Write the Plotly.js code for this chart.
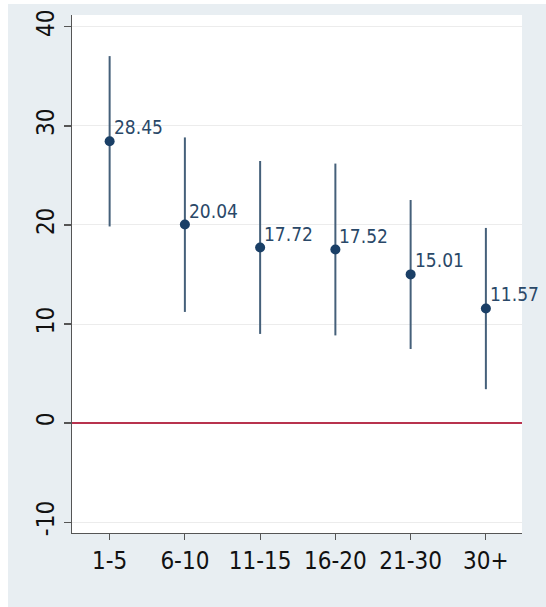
<!DOCTYPE html>
<html>
<head>
<meta charset="utf-8">
<script src="https://cdn.plot.ly/plotly-3.0.1.min.js"></script>
<style>
  html, body { margin: 0; padding: 0; background: #ffffff; }
  #frame { position: absolute; left: 8px; top: 4px; right: 0; bottom: 0; background: #e8eef2; }
  #chart { position: absolute; left: 0; top: 0; width: 546px; height: 607px; }
</style>
</head>
<body>
<div id="frame"></div>
<div id="chart"></div>
<script>
// Experience groups and their point estimates with 95% confidence bounds
const groups = ["1-5", "6-10", "11-15", "16-20", "21-30", "30+"];
const estimate = [28.45, 20.04, 17.72, 17.52, 15.01, 11.57];
const upper = [37.05, 28.84, 26.46, 26.20, 22.52, 19.70];
const lower = [19.85, 11.22, 9.00, 8.85, 7.48, 3.42];
const yTicks = [-10, 0, 10, 20, 30, 40];

const fontFamily = "DejaVu Sans Condensed, Open Sans, Roboto, sans-serif";
const tickFont = { family: fontFamily, size: 24, color: "#111111" };

const trace = {
  type: "scatter",
  mode: "markers",
  x: groups,
  y: estimate,
  marker: { size: 10, color: "#1a3f66" },
  error_y: {
    type: "data",
    symmetric: false,
    array: upper.map((u, i) => u - estimate[i]),
    arrayminus: lower.map((l, i) => estimate[i] - l),
    width: 0,
    thickness: 2,
    color: "#45607a"
  },
  cliponaxis: false,
  hoverinfo: "skip",
  showlegend: false
};

// Value labels sit just above and to the right of each estimate
const labels = groups.map((g, i) => ({
  x: g,
  y: estimate[i],
  xref: "x",
  yref: "y",
  text: estimate[i].toFixed(2),
  showarrow: false,
  xanchor: "left",
  yanchor: "bottom",
  xshift: 2,
  yshift: 1,
  font: { family: fontFamily, size: 19, color: "#2a4868" }
}));

const layout = {
  width: 546,
  height: 607,
  margin: { l: 72, r: 24, t: 15, b: 74 },
  paper_bgcolor: "rgba(0,0,0,0)",
  plot_bgcolor: "#ffffff",
  showlegend: false,
  annotations: labels,
  xaxis: {
    type: "category",
    range: [-0.5, 5.48],
    showgrid: false,
    zeroline: false,
    showline: true,
    linecolor: "#555555",
    linewidth: 1.2,
    ticks: "outside",
    ticklen: 6,
    tickwidth: 1.2,
    tickcolor: "#555555",
    tickfont: tickFont,
    fixedrange: true
  },
  yaxis: {
    range: [-11.1, 41.2],
    tickmode: "array",
    tickvals: yTicks,
    ticktext: yTicks.map(String),
    tickangle: -90,
    showgrid: true,
    gridcolor: "#ececec",
    gridwidth: 1,
    zeroline: true,
    zerolinecolor: "#b8324e",
    zerolinewidth: 1.6,
    showline: true,
    linecolor: "#555555",
    linewidth: 1.2,
    ticks: "outside",
    ticklen: 7,
    tickwidth: 1.2,
    tickcolor: "#555555",
    tickfont: tickFont,
    fixedrange: true
  }
};

Plotly.newPlot("chart", [trace], layout, { staticPlot: true, displayModeBar: false });
</script>
</body>
</html>
